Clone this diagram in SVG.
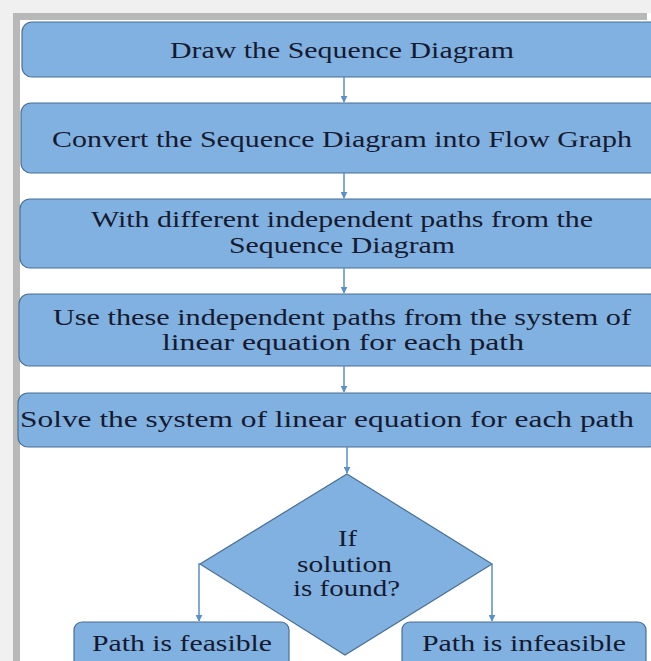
<svg xmlns="http://www.w3.org/2000/svg" width="651" height="661" viewBox="0 0 651 661">
<defs>
<style>
.box{fill:#80b1e0;stroke:#4a6f94;stroke-width:1.2}
.t{font-family:'Liberation Serif','DejaVu Serif',serif;font-size:23px;fill:#161a30;text-anchor:start}
.c{stroke:#5a8fc8;stroke-width:1.5;fill:none;marker-end:url(#ah)}
</style>
<marker id="ah" viewBox="0 0 10 10" refX="9" refY="5" markerWidth="7" markerHeight="7" markerUnits="userSpaceOnUse" orient="auto">
<path d="M0,0 L10,5 L0,10 z" fill="#5a8fc8"/>
</marker>
</defs>
<rect x="0" y="0" width="651" height="661" fill="#ffffff"/>
<rect x="0" y="0" width="651" height="13" fill="#f0f0f0"/>
<rect x="0" y="0" width="13" height="661" fill="#f0f0f0"/>
<rect x="13" y="13" width="634" height="7" fill="#b8b8b8"/>
<rect x="13" y="13" width="7" height="648" fill="#b8b8b8"/>
<g id="n1"><rect class="box" x="22" y="22" width="640" height="55" rx="10"/><text class="t" x="170" y="58" textLength="344" lengthAdjust="spacingAndGlyphs">Draw the Sequence Diagram</text></g>
<g id="n2"><rect class="box" x="21" y="103" width="640" height="70" rx="10"/><text class="t" x="52" y="147" textLength="580" lengthAdjust="spacingAndGlyphs">Convert the Sequence Diagram into Flow Graph</text></g>
<g id="n3"><rect class="box" x="20" y="199" width="640" height="69" rx="10"/><text class="t" x="91" y="227" textLength="502" lengthAdjust="spacingAndGlyphs">With different independent paths from the</text><text class="t" x="229" y="253" textLength="226" lengthAdjust="spacingAndGlyphs">Sequence Diagram</text></g>
<g id="n4"><rect class="box" x="19" y="294" width="640" height="72" rx="10"/><text class="t" x="53" y="325" textLength="578" lengthAdjust="spacingAndGlyphs">Use these independent paths from the system of</text><text class="t" x="162" y="350" textLength="362" lengthAdjust="spacingAndGlyphs">linear equation for each path</text></g>
<g id="n5"><rect class="box" x="18" y="393" width="640" height="54" rx="10"/><text class="t" x="20" y="427" textLength="614" lengthAdjust="spacingAndGlyphs">Solve the system of linear equation for each path</text></g>
<g id="n6"><polygon class="box" points="347,474 492,564 345,655 200,564"/><text class="t" x="338" y="546" textLength="19" lengthAdjust="spacingAndGlyphs">If</text><text class="t" x="297" y="572" textLength="95" lengthAdjust="spacingAndGlyphs">solution</text><text class="t" x="293" y="596" textLength="107" lengthAdjust="spacingAndGlyphs">is found?</text></g>
<g id="n7"><rect class="box" x="74" y="622" width="215" height="50" rx="8"/><text class="t" x="92" y="651" textLength="180" lengthAdjust="spacingAndGlyphs">Path is feasible</text></g>
<g id="n8"><rect class="box" x="402" y="622" width="244" height="50" rx="8"/><text class="t" x="422" y="651" textLength="204" lengthAdjust="spacingAndGlyphs">Path is infeasible</text></g>
<g id="connectors">
<line class="c" x1="344" y1="77" x2="344" y2="102"/>
<line class="c" x1="344" y1="173" x2="344" y2="198"/>
<line class="c" x1="344" y1="268" x2="344" y2="293"/>
<line class="c" x1="344" y1="366" x2="344" y2="392"/>
<line class="c" x1="347" y1="447" x2="347" y2="473"/>
<polyline class="c" points="200,564 199,564 199,621"/>
<polyline class="c" points="492,564 492,621"/>
</g>
</svg>
